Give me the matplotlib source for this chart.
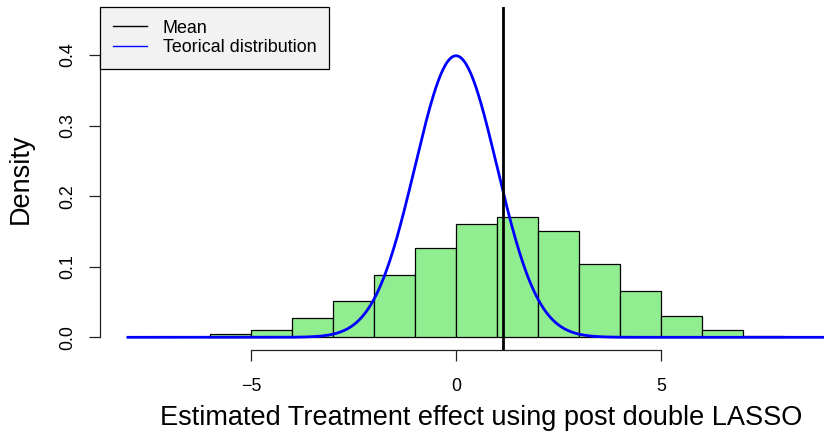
import numpy as np
import matplotlib
matplotlib.use("Agg")
import matplotlib.pyplot as plt

plt.rcParams['font.family'] = ['Liberation Sans', 'DejaVu Sans']

# Histogram of estimated treatment effects (density scale)
bin_edges = [-6, -5, -4, -3, -2, -1, 0, 1, 2, 3, 4, 5, 6, 7, 8]
densities = [0.004, 0.010, 0.027, 0.051, 0.088, 0.126, 0.160, 0.171,
             0.151, 0.104, 0.066, 0.030, 0.011, 0.002]
mean_effect = 1.15

# Theoretical distribution: standard normal
theo_mu = 0.0
theo_sigma = 1.0
curve_from, curve_to = -8, 9.7

x_ticks = [-5, 0, 5]
y_ticks = [0.0, 0.1, 0.2, 0.3, 0.4]
x_label = "Estimated Treatment effect using post double LASSO"
y_label = "Density"
legend_labels = ["Mean", "Teorical distribution"]

W, H = 824, 438
fig = plt.figure(figsize=(W / 100, H / 100), dpi=100)
ax_w = 753
ax = fig.add_axes([100 / W, (H - 350) / H, ax_w / W, 343 / H])

lefts = np.array(bin_edges[:-1])
widths = np.diff(bin_edges)
ax.bar(lefts, densities, width=widths, align='edge', color='#90EE90',
       edgecolor='black', linewidth=0.9, zorder=2)

xs = np.linspace(curve_from, curve_to, 600)
ys = np.exp(-0.5 * ((xs - theo_mu) / theo_sigma) ** 2) / (theo_sigma * np.sqrt(2 * np.pi))
line_theo, = ax.plot(xs, ys, color='#0000FF', lw=2.0, zorder=3)
line_mean = ax.axvline(mean_effect, color='black', lw=2.0, zorder=4)

ax.set_xlim(-8.68, 9.68)
ax.set_ylim(-0.018, 0.468)

for s in ['top', 'right']:
    ax.spines[s].set_visible(False)
ax.spines['left'].set_bounds(0, 0.4)
ax.spines['bottom'].set_bounds(-5, 5)
for s in ['left', 'bottom']:
    ax.spines[s].set_linewidth(0.9)
    ax.spines[s].set_color('#222222')

ax.set_xticks(x_ticks)
ax.set_xticklabels(['\u22125', '0', '5'])
ax.set_yticks(y_ticks)
ax.set_yticklabels([f"{v:.1f}" for v in y_ticks], rotation=90, va='center')
ax.tick_params(axis='both', direction='out', length=8, width=0.9,
               color='#222222', labelsize=12.9)
ax.tick_params(axis='x', pad=12)
ax.tick_params(axis='y', pad=9)

ax.set_xlabel(x_label, fontsize=19.5)
ax.set_ylabel(y_label, fontsize=19.5)
ax.xaxis.set_label_coords(0.5 + 5 / ax_w, (350 - 418) / 343)
ax.xaxis.label.set_va('center')
ax.yaxis.set_label_coords((21 - 100) / ax_w, 0.5)
ax.yaxis.label.set_va('center')

leg = ax.legend([line_mean, line_theo], legend_labels, loc='upper left',
                bbox_to_anchor=(0, 1), borderaxespad=0, fontsize=12.9,
                frameon=True, fancybox=False, edgecolor='black',
                facecolor='#f2f2f2', framealpha=1, handlelength=1.9,
                handletextpad=0.9, borderpad=0.7, labelspacing=0.15)
for h in leg.get_lines():
    h.set_linewidth(1.0)
leg.get_frame().set_linewidth(0.9)

fig.savefig("out.png", dpi=100)
